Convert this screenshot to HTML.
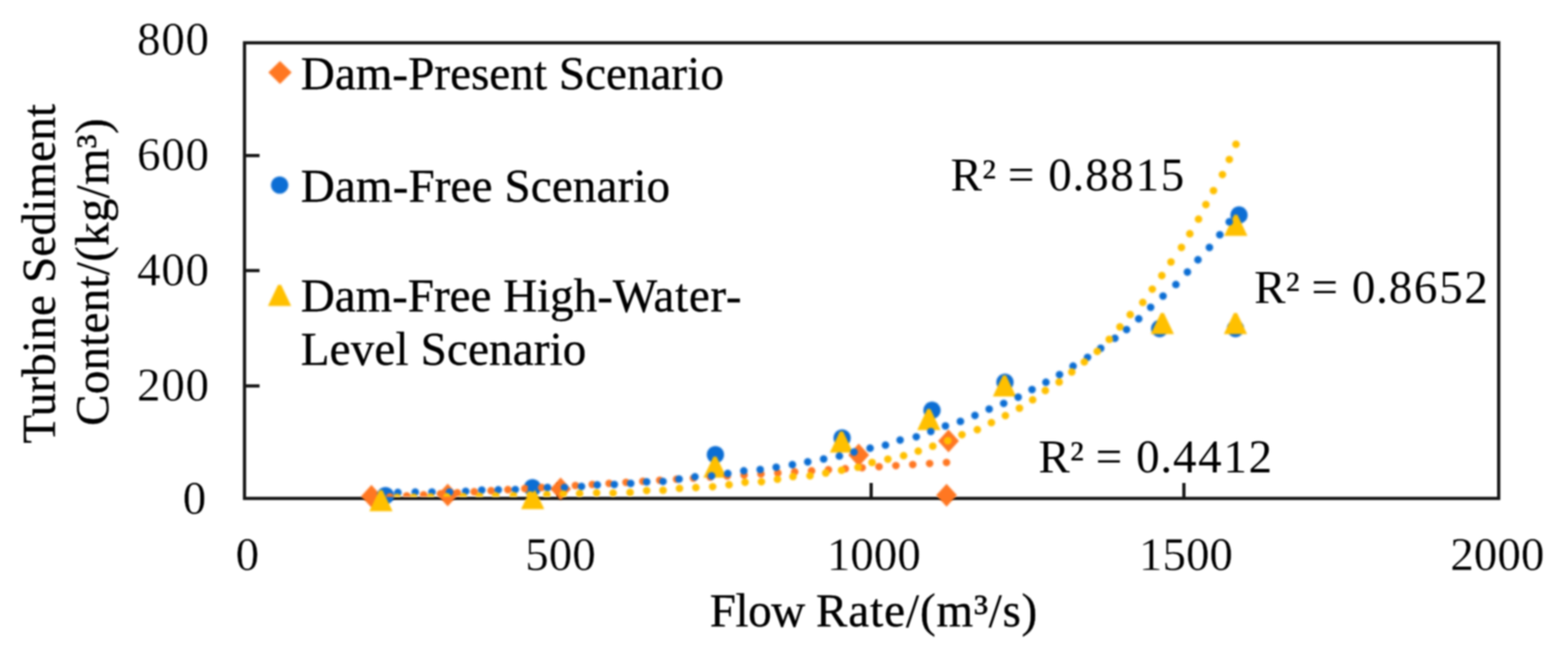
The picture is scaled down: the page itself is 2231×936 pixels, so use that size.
<!DOCTYPE html>
<html lang="en"><head><meta charset="utf-8"><title>Turbine Sediment Content vs Flow Rate</title>
<style>
html,body{margin:0;padding:0;background:#fff;}
body{width:2231px;height:936px;overflow:hidden;}
svg{display:block;}
#sharp{filter:blur(1.2px);}
#soft{filter:blur(1.8px);}
text{font-family:"Liberation Serif", "Times New Roman", serif;font-size:66.9px;fill:#000;stroke:#000;stroke-width:0.5px;stroke-linejoin:round;}
.r{stroke:none;}
.n{stroke:#fff;stroke-width:0.3px;}
</style></head><body>
<svg width="2231" height="936" viewBox="0 0 2231 936">
<defs><clipPath id="plot"><rect x="347.9" y="60.9" width="1784.5" height="645.9"/></clipPath></defs>
<rect width="2231" height="936" fill="#fff"/>
<g id="chart">
<g id="sharp">
<g id="axes">
<rect x="347.9" y="60.9" width="1784.5" height="648.1" fill="none" stroke="#161616" stroke-width="4.6"/>
<line x1="347.9" y1="221.3" x2="369.3" y2="221.3" stroke="#161616" stroke-width="4.6"/>
<line x1="347.9" y1="384.9" x2="369.3" y2="384.9" stroke="#161616" stroke-width="4.6"/>
<line x1="347.9" y1="549.0" x2="369.3" y2="549.0" stroke="#161616" stroke-width="4.6"/>
<line x1="794.5" y1="709.0" x2="794.5" y2="687.0" stroke="#161616" stroke-width="4.6"/>
<line x1="1239.5" y1="709.0" x2="1239.5" y2="687.0" stroke="#161616" stroke-width="4.6"/>
<line x1="1684.5" y1="709.0" x2="1684.5" y2="687.0" stroke="#161616" stroke-width="4.6"/>
</g>
<g id="ylabels">
<text x="298.4" y="78.4" text-anchor="end" class="n" letter-spacing="1">800</text>
<text x="298.4" y="242.3" text-anchor="end" class="n" letter-spacing="1">600</text>
<text x="298.4" y="405.9" text-anchor="end" class="n" letter-spacing="1">400</text>
<text x="298.4" y="570.0" text-anchor="end" class="n" letter-spacing="1">200</text>
<text x="294.4" y="730.7" text-anchor="end" class="n" letter-spacing="1">0</text>
</g>
<g id="xlabels">
<text x="352" y="810.7" text-anchor="middle" class="n">0</text>
<text x="797.5" y="810.7" text-anchor="middle" class="n">500</text>
<text x="1243.3" y="810.7" text-anchor="middle" class="n">1000</text>
<text x="1687.4" y="810.7" text-anchor="middle" class="n">1500</text>
<text x="2130.5" y="810.7" text-anchor="middle" class="n">2000</text>
</g>
<g id="titles">
<text x="1010.1" y="890.8" text-anchor="start" dx="0 -0.7 -0.7 -0.7 -0.7 -0.7 1.4 1.4 1.4 1.4 1.4 1.1 1.1 1.1 1.1 1.1">Flow Rate/(m³/s)</text>
<text transform="translate(78.4 389.3) rotate(-90)" text-anchor="middle" letter-spacing="0.3">Turbine Sediment</text>
<text transform="translate(153.7 386.8) rotate(-90)" text-anchor="middle" letter-spacing="0.36">Content/(kg/m³)</text>
</g>
<g id="legend">
<text x="428.0" y="126.5" text-anchor="start" letter-spacing="0.1">Dam-Present Scenario</text>
<text x="428.0" y="286.9" text-anchor="start" letter-spacing="0.22">Dam-Free Scenario</text>
<text x="428.0" y="443.3" text-anchor="start" dx="0 0 0 0 0 0 0 0 0 0 0 0 0 0 0 0 1 1 1 1">Dam-Free High-Water-</text>
<text x="428.0" y="518.5" text-anchor="start" letter-spacing="0.25">Level Scenario</text>
</g>
<g id="r2">
<text class="r" x="1352.5" y="271.1" dx="0 0 0 0 0 3 1.2 1.2 2.4 2.4 2.4">R² = 0.8815</text>
<text class="r" x="1784.5" y="430.7" dx="0 0 0 0 0 3 1.2 1.2 2.4 2.4 2.4">R² = 0.8652</text>
<text class="r" x="1477.5" y="671.6" dx="0 0 0 0 0 3 1.2 1.2 2.4 2.4 2.4">R² = 0.4412</text>
</g>
</g>
<g id="soft">
<g id="legend-markers">
<path d="M398.4 86.8L415.0 103.1L398.4 119.4L381.8 103.1Z" fill="#FF7722"/>
<circle cx="397.9" cy="263.2" r="12.3" fill="#0C6ED4"/>
<path d="M395.6 405.3L400.0 405.3L414.3 435.3L381.3 435.3Z" fill="#FFC000"/>
</g>
<g id="markers">
<path d="M528.5 689.7L543.3 705.9L528.5 722.1L513.7 705.9Z" fill="#FF7722"/>
<path d="M637.0 687.9L651.8 704.1L637.0 720.3L622.2 704.1Z" fill="#FF7722"/>
<path d="M797.7 679.2L812.5 695.4L797.7 711.6L782.9 695.4Z" fill="#FF7722"/>
<path d="M1221.8 631.1L1236.6 647.3L1221.8 663.5L1207.0 647.3Z" fill="#FF7722"/>
<path d="M1349.6 611.0L1364.4 627.2L1349.6 643.4L1334.8 627.2Z" fill="#FF7722"/>
<path d="M1346.8 688.3L1361.6 704.5L1346.8 720.7L1332.0 704.5Z" fill="#FF7722"/>
<circle cx="548.5" cy="705.0" r="12.3" fill="#0C6ED4"/>
<circle cx="757.6" cy="693.8" r="12.3" fill="#0C6ED4"/>
<circle cx="1017.9" cy="646.8" r="12.3" fill="#0C6ED4"/>
<circle cx="1198.2" cy="623.0" r="12.3" fill="#0C6ED4"/>
<circle cx="1326.1" cy="583.6" r="12.3" fill="#0C6ED4"/>
<circle cx="1429.9" cy="543.7" r="12.3" fill="#0C6ED4"/>
<circle cx="1650.0" cy="467.4" r="12.3" fill="#0C6ED4"/>
<circle cx="1757.9" cy="467.4" r="12.3" fill="#0C6ED4"/>
<circle cx="1762.9" cy="305.9" r="12.3" fill="#0C6ED4"/>
<path d="M539.8 697.3L544.2 697.3L558.5 727.3L525.5 727.3Z" fill="#FFC000"/>
<path d="M755.7 694.2L760.1 694.2L774.4 724.2L741.4 724.2Z" fill="#FFC000"/>
<path d="M1015.1 649.6L1019.5 649.6L1033.8 679.6L1000.8 679.6Z" fill="#FFC000"/>
<path d="M1195.1 613.7L1199.5 613.7L1213.8 643.7L1180.8 643.7Z" fill="#FFC000"/>
<path d="M1319.4 581.7L1323.8 581.7L1338.1 611.7L1305.1 611.7Z" fill="#FFC000"/>
<path d="M1427.0 533.9L1431.4 533.9L1445.7 563.9L1412.7 563.9Z" fill="#FFC000"/>
<path d="M1651.6 445.2L1656.0 445.2L1670.3 475.2L1637.3 475.2Z" fill="#FFC000"/>
<path d="M1755.7 445.2L1760.1 445.2L1774.4 475.2L1741.4 475.2Z" fill="#FFC000"/>
<path d="M1756.2 305.4L1760.6 305.4L1774.9 335.4L1741.9 335.4Z" fill="#FFC000"/>
</g>
<g id="trend" clip-path="url(#plot)">
<circle cx="530.7" cy="708.4" r="5.4" fill="#FF7722"/>
<circle cx="554.7" cy="706.9" r="5.4" fill="#FF7722"/>
<circle cx="578.7" cy="705.4" r="5.4" fill="#FF7722"/>
<circle cx="602.7" cy="703.9" r="5.4" fill="#FF7722"/>
<circle cx="626.7" cy="702.5" r="5.4" fill="#FF7722"/>
<circle cx="650.7" cy="701.0" r="5.4" fill="#FF7722"/>
<circle cx="674.7" cy="699.5" r="5.4" fill="#FF7722"/>
<circle cx="698.7" cy="698.0" r="5.4" fill="#FF7722"/>
<circle cx="722.7" cy="696.5" r="5.4" fill="#FF7722"/>
<circle cx="746.7" cy="695.0" r="5.4" fill="#FF7722"/>
<circle cx="770.7" cy="693.5" r="5.4" fill="#FF7722"/>
<circle cx="794.7" cy="692.0" r="5.4" fill="#FF7722"/>
<circle cx="818.7" cy="690.6" r="5.4" fill="#FF7722"/>
<circle cx="842.7" cy="689.1" r="5.4" fill="#FF7722"/>
<circle cx="866.7" cy="687.6" r="5.4" fill="#FF7722"/>
<circle cx="890.7" cy="686.1" r="5.4" fill="#FF7722"/>
<circle cx="914.7" cy="684.6" r="5.4" fill="#FF7722"/>
<circle cx="938.7" cy="683.1" r="5.4" fill="#FF7722"/>
<circle cx="962.7" cy="681.6" r="5.4" fill="#FF7722"/>
<circle cx="986.7" cy="680.1" r="5.4" fill="#FF7722"/>
<circle cx="1010.7" cy="678.7" r="5.4" fill="#FF7722"/>
<circle cx="1034.7" cy="677.2" r="5.4" fill="#FF7722"/>
<circle cx="1058.7" cy="675.7" r="5.4" fill="#FF7722"/>
<circle cx="1082.7" cy="674.2" r="5.4" fill="#FF7722"/>
<circle cx="1106.7" cy="672.7" r="5.4" fill="#FF7722"/>
<circle cx="1130.7" cy="671.2" r="5.4" fill="#FF7722"/>
<circle cx="1154.7" cy="669.7" r="5.4" fill="#FF7722"/>
<circle cx="1178.7" cy="668.2" r="5.4" fill="#FF7722"/>
<circle cx="1202.7" cy="666.7" r="5.4" fill="#FF7722"/>
<circle cx="1226.7" cy="665.3" r="5.4" fill="#FF7722"/>
<circle cx="1250.7" cy="663.8" r="5.4" fill="#FF7722"/>
<circle cx="1274.7" cy="662.3" r="5.4" fill="#FF7722"/>
<circle cx="1298.7" cy="660.8" r="5.4" fill="#FF7722"/>
<circle cx="1322.7" cy="659.3" r="5.4" fill="#FF7722"/>
<circle cx="1346.7" cy="657.8" r="5.4" fill="#FF7722"/>
<circle cx="566.1" cy="700.5" r="5.4" fill="#0C6ED4"/>
<circle cx="590.8" cy="700.0" r="5.4" fill="#0C6ED4"/>
<circle cx="614.6" cy="699.8" r="5.4" fill="#0C6ED4"/>
<circle cx="639.6" cy="700.0" r="5.4" fill="#0C6ED4"/>
<circle cx="662.6" cy="698.8" r="5.4" fill="#0C6ED4"/>
<circle cx="685.5" cy="697.1" r="5.4" fill="#0C6ED4"/>
<circle cx="709.0" cy="696.7" r="5.4" fill="#0C6ED4"/>
<circle cx="733.2" cy="696.3" r="5.4" fill="#0C6ED4"/>
<circle cx="756.1" cy="695.3" r="5.4" fill="#0C6ED4"/>
<circle cx="779.0" cy="693.4" r="5.4" fill="#0C6ED4"/>
<circle cx="803.2" cy="693.3" r="5.4" fill="#0C6ED4"/>
<circle cx="827.4" cy="692.0" r="5.4" fill="#0C6ED4"/>
<circle cx="849.8" cy="689.7" r="5.4" fill="#0C6ED4"/>
<circle cx="874.1" cy="689.1" r="5.4" fill="#0C6ED4"/>
<circle cx="897.4" cy="687.6" r="5.4" fill="#0C6ED4"/>
<circle cx="920.1" cy="685.4" r="5.4" fill="#0C6ED4"/>
<circle cx="943.4" cy="684.8" r="5.4" fill="#0C6ED4"/>
<circle cx="966.2" cy="681.4" r="5.4" fill="#0C6ED4"/>
<circle cx="988.8" cy="678.2" r="5.4" fill="#0C6ED4"/>
<circle cx="1012.5" cy="677.0" r="5.4" fill="#0C6ED4"/>
<circle cx="1035.5" cy="673.5" r="5.4" fill="#0C6ED4"/>
<circle cx="1058.3" cy="669.7" r="5.4" fill="#0C6ED4"/>
<circle cx="1081.6" cy="667.9" r="5.4" fill="#0C6ED4"/>
<circle cx="1104.4" cy="664.6" r="5.4" fill="#0C6ED4"/>
<circle cx="1127.4" cy="661.0" r="5.4" fill="#0C6ED4"/>
<circle cx="1149.3" cy="657.0" r="5.4" fill="#0C6ED4"/>
<circle cx="1171.9" cy="652.9" r="5.4" fill="#0C6ED4"/>
<circle cx="1194.3" cy="648.7" r="5.4" fill="#0C6ED4"/>
<circle cx="1215.1" cy="643.0" r="5.4" fill="#0C6ED4"/>
<circle cx="1238.0" cy="637.5" r="5.4" fill="#0C6ED4"/>
<circle cx="1259.9" cy="633.2" r="5.4" fill="#0C6ED4"/>
<circle cx="1280.7" cy="626.0" r="5.4" fill="#0C6ED4"/>
<circle cx="1303.7" cy="621.3" r="5.4" fill="#0C6ED4"/>
<circle cx="1324.4" cy="613.8" r="5.4" fill="#0C6ED4"/>
<circle cx="1345.2" cy="605.9" r="5.4" fill="#0C6ED4"/>
<circle cx="1366.5" cy="599.4" r="5.4" fill="#0C6ED4"/>
<circle cx="1387.2" cy="591.0" r="5.4" fill="#0C6ED4"/>
<circle cx="1407.4" cy="581.9" r="5.4" fill="#0C6ED4"/>
<circle cx="1428.1" cy="573.8" r="5.4" fill="#0C6ED4"/>
<circle cx="1448.7" cy="565.0" r="5.4" fill="#0C6ED4"/>
<circle cx="1468.4" cy="554.1" r="5.4" fill="#0C6ED4"/>
<circle cx="1488.2" cy="543.7" r="5.4" fill="#0C6ED4"/>
<circle cx="1507.5" cy="532.8" r="5.4" fill="#0C6ED4"/>
<circle cx="1526.8" cy="520.7" r="5.4" fill="#0C6ED4"/>
<circle cx="1547.4" cy="508.3" r="5.4" fill="#0C6ED4"/>
<circle cx="1566.1" cy="495.4" r="5.4" fill="#0C6ED4"/>
<circle cx="1586.3" cy="481.2" r="5.4" fill="#0C6ED4"/>
<circle cx="1602.9" cy="468.8" r="5.4" fill="#0C6ED4"/>
<circle cx="1620.2" cy="453.5" r="5.4" fill="#0C6ED4"/>
<circle cx="1637.2" cy="437.1" r="5.4" fill="#0C6ED4"/>
<circle cx="1654.8" cy="421.1" r="5.4" fill="#0C6ED4"/>
<circle cx="1673.1" cy="404.7" r="5.4" fill="#0C6ED4"/>
<circle cx="1689.5" cy="387.0" r="5.4" fill="#0C6ED4"/>
<circle cx="1704.5" cy="369.5" r="5.4" fill="#0C6ED4"/>
<circle cx="1720.8" cy="352.0" r="5.4" fill="#0C6ED4"/>
<circle cx="1735.6" cy="333.9" r="5.4" fill="#0C6ED4"/>
<circle cx="1749.0" cy="315.5" r="5.4" fill="#0C6ED4"/>
<circle cx="541.5" cy="707.9" r="5.4" fill="#FFC000"/>
<circle cx="565.2" cy="707.6" r="5.4" fill="#FFC000"/>
<circle cx="588.6" cy="707.3" r="5.4" fill="#FFC000"/>
<circle cx="612.8" cy="707.0" r="5.4" fill="#FFC000"/>
<circle cx="635.9" cy="706.7" r="5.4" fill="#FFC000"/>
<circle cx="659.1" cy="706.3" r="5.4" fill="#FFC000"/>
<circle cx="682.2" cy="705.9" r="5.4" fill="#FFC000"/>
<circle cx="705.4" cy="705.4" r="5.4" fill="#FFC000"/>
<circle cx="730.5" cy="704.8" r="5.4" fill="#FFC000"/>
<circle cx="754.3" cy="704.2" r="5.4" fill="#FFC000"/>
<circle cx="778.1" cy="703.5" r="5.4" fill="#FFC000"/>
<circle cx="801.4" cy="702.8" r="5.4" fill="#FFC000"/>
<circle cx="824.7" cy="702.0" r="5.4" fill="#FFC000"/>
<circle cx="848.9" cy="701.1" r="5.4" fill="#FFC000"/>
<circle cx="872.3" cy="701.3" r="5.4" fill="#FFC000"/>
<circle cx="896.5" cy="700.4" r="5.4" fill="#FFC000"/>
<circle cx="920.1" cy="697.8" r="5.4" fill="#FFC000"/>
<circle cx="943.4" cy="697.4" r="5.4" fill="#FFC000"/>
<circle cx="966.8" cy="694.7" r="5.4" fill="#FFC000"/>
<circle cx="990.1" cy="693.5" r="5.4" fill="#FFC000"/>
<circle cx="1014.0" cy="692.3" r="5.4" fill="#FFC000"/>
<circle cx="1037.3" cy="689.5" r="5.4" fill="#FFC000"/>
<circle cx="1060.1" cy="686.0" r="5.4" fill="#FFC000"/>
<circle cx="1083.4" cy="685.3" r="5.4" fill="#FFC000"/>
<circle cx="1106.2" cy="681.7" r="5.4" fill="#FFC000"/>
<circle cx="1128.3" cy="677.9" r="5.4" fill="#FFC000"/>
<circle cx="1152.5" cy="676.8" r="5.4" fill="#FFC000"/>
<circle cx="1174.9" cy="672.9" r="5.4" fill="#FFC000"/>
<circle cx="1197.4" cy="668.9" r="5.4" fill="#FFC000"/>
<circle cx="1220.7" cy="664.7" r="5.4" fill="#FFC000"/>
<circle cx="1240.8" cy="657.9" r="5.4" fill="#FFC000"/>
<circle cx="1263.3" cy="653.1" r="5.4" fill="#FFC000"/>
<circle cx="1285.7" cy="648.2" r="5.4" fill="#FFC000"/>
<circle cx="1306.5" cy="641.7" r="5.4" fill="#FFC000"/>
<circle cx="1327.2" cy="634.6" r="5.4" fill="#FFC000"/>
<circle cx="1348.5" cy="626.9" r="5.4" fill="#FFC000"/>
<circle cx="1368.7" cy="618.3" r="5.4" fill="#FFC000"/>
<circle cx="1390.6" cy="611.2" r="5.4" fill="#FFC000"/>
<circle cx="1410.6" cy="601.2" r="5.4" fill="#FFC000"/>
<circle cx="1430.5" cy="591.2" r="5.4" fill="#FFC000"/>
<circle cx="1450.5" cy="580.6" r="5.4" fill="#FFC000"/>
<circle cx="1469.3" cy="568.7" r="5.4" fill="#FFC000"/>
<circle cx="1487.3" cy="555.5" r="5.4" fill="#FFC000"/>
<circle cx="1507.0" cy="543.4" r="5.4" fill="#FFC000"/>
<circle cx="1525.0" cy="529.2" r="5.4" fill="#FFC000"/>
<circle cx="1542.8" cy="514.8" r="5.4" fill="#FFC000"/>
<circle cx="1561.2" cy="499.8" r="5.4" fill="#FFC000"/>
<circle cx="1578.3" cy="482.6" r="5.4" fill="#FFC000"/>
<circle cx="1593.5" cy="465.0" r="5.4" fill="#FFC000"/>
<circle cx="1608.1" cy="447.5" r="5.4" fill="#FFC000"/>
<circle cx="1626.0" cy="430.2" r="5.4" fill="#FFC000"/>
<circle cx="1639.5" cy="411.3" r="5.4" fill="#FFC000"/>
<circle cx="1653.1" cy="392.0" r="5.4" fill="#FFC000"/>
<circle cx="1666.1" cy="372.6" r="5.4" fill="#FFC000"/>
<circle cx="1681.0" cy="352.0" r="5.4" fill="#FFC000"/>
<circle cx="1692.9" cy="332.5" r="5.4" fill="#FFC000"/>
<circle cx="1705.3" cy="311.7" r="5.4" fill="#FFC000"/>
<circle cx="1715.8" cy="291.0" r="5.4" fill="#FFC000"/>
<circle cx="1726.6" cy="271.1" r="5.4" fill="#FFC000"/>
<circle cx="1739.3" cy="248.3" r="5.4" fill="#FFC000"/>
<circle cx="1749.1" cy="226.8" r="5.4" fill="#FFC000"/>
<circle cx="1758.6" cy="205.2" r="5.4" fill="#FFC000"/>
</g>
</g>
</g></svg></body></html>
